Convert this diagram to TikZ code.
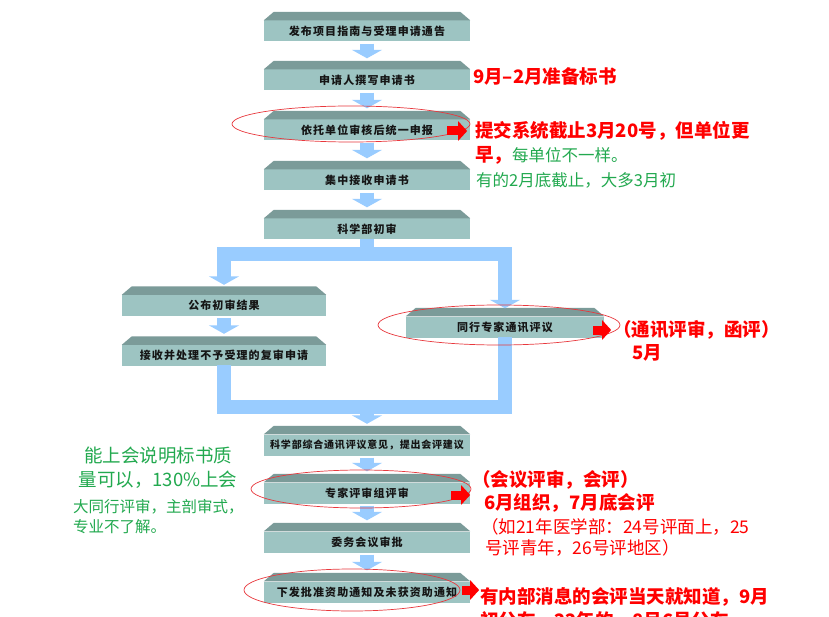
\documentclass[tikz,border=0pt]{standalone}
\usepackage{fontspec}
\setmainfont{Noto Sans CJK SC}
\usetikzlibrary{arrows.meta,positioning,shapes.geometric}
\definecolor{FlowBody}{HTML}{9DC4C2}
\definecolor{FlowBevel}{HTML}{7B9B99}
\definecolor{FlowPipe}{HTML}{99CCFF}
\definecolor{FlowRed}{HTML}{FF0000}
\definecolor{FlowRing}{HTML}{E8383D}
\definecolor{FlowGreen}{HTML}{22A94F}
\definecolor{FlowInk}{HTML}{151515}
\tikzset{
  stage/.style={fill=FlowBody,minimum height=21pt,inner sep=0pt,text=FlowInk,
                font=\fontsize{11}{12}\selectfont\bfseries\addfontfeature{LetterSpace=10}},
  stagetight/.style={stage,font=\fontsize{10}{11}\selectfont\bfseries\addfontfeature{LetterSpace=8}},
  bevel/.style={fill=FlowBevel},
  pipeline/.style={draw=FlowPipe,line width=14pt,line join=miter},
  pipe/.style={pipeline,-{Triangle[length=8.5pt,width=30pt]}},
  hot/.style={draw=FlowRed,line width=9pt,-{Triangle[length=9pt,width=19pt]}},
  ring/.style={ellipse,draw=FlowRing,line width=0.7pt,inner sep=0pt},
  notered/.style={text=FlowRed,inner sep=0pt,font=\fontsize{18.5}{22}\selectfont\bfseries},
  noteredlight/.style={text=FlowRed,inner sep=0pt,font=\fontsize{17.5}{21}\selectfont},
  notegreen/.style={text=FlowGreen,inner sep=0pt,font=\fontsize{16.5}{20}\selectfont},
}

\begin{document}
\begin{tikzpicture}[x=1pt,y=-1pt]
  \useasboundingbox[fill=white] (0,0) rectangle (829,617);

  % main column
  \node[stage,minimum width=206pt] (b1) at (367,31) {发布项目指南与受理申请通告};
  \node[stage,minimum width=206pt] (b2) at (367,80) {申请人撰写申请书};
  \node[stage,minimum width=206pt] (b3) at (367,130) {依托单位审核后统一申报};
  \node[stage,minimum width=206pt] (b4) at (367,180) {集中接收申请书};
  \node[stage,minimum width=206pt] (b5) at (367,229) {科学部初审};
  \node[stage,minimum width=204pt] (pub) at (224,305.5) {公布初审结果};
  \node[stage,minimum width=204pt] (rec) at (224,355.5) {接收并处理不予受理的复审申请};
  \node[stage,minimum width=198pt] (peer) at (505,327) {同行专家通讯评议};
  \node[stagetight,minimum width=206pt] (b6) at (367,445) {科学部综合通讯评议意见，提出会评建议};
  \node[stage,minimum width=206pt] (b7) at (367,493) {专家评审组评审};
  \node[stage,minimum width=206pt] (b8) at (367,542) {委务会议审批};
  \node[stage,minimum width=206pt] (b9) at (367,592) {下发批准资助通知及未获资助通知};

  \foreach \n in {b1,b2,b3,b4,b5,pub,rec,peer,b6,b7,b8,b9}
    \fill[bevel] (\n.north west) -- ([shift={(10pt,8.5pt)}]\n.north west)
      -- ([shift={(-10pt,8.5pt)}]\n.north east) -- (\n.north east) -- cycle;

  % blue arrows
  \foreach \a/\b in {b1/b2,b2/b3,b3/b4,b4/b5,pub/rec,b6/b7,b7/b8,b8/b9}
    \draw[pipe] ([yshift=-2pt]\a.south) -- ([yshift=11pt]\b.north);

  \coordinate (fork) at (367,254.5);
  \coordinate (join) at (367,407);
  \draw[pipeline] ([yshift=1pt]b5.south) -- (fork);
  \draw[pipe] (fork) -| ([yshift=10pt]pub.north);
  \draw[pipe] (fork) -| ([yshift=8pt]peer.north);
  \draw[pipeline] ([yshift=1pt]rec.south) |- (join);
  \draw[pipeline] ([yshift=1pt]peer.south) |- (join);
  \draw[pipe] (join) -- ([yshift=10.5pt]b6.north);

  % red marks
  \node[ring,minimum width=238pt,minimum height=36pt] (ring3) at (351,124) {};
  \node[ring,minimum width=242pt,minimum height=40pt] (ringpeer) at (499,325) {};
  \node[ring,minimum width=220pt,minimum height=38pt] (ring7) at (361,489) {};
  \node[ring,minimum width=216pt,minimum height=42pt] (ring9) at (352,590) {};
  \draw[hot] ([xshift=-23pt,yshift=-1pt]b3.east) -- ([xshift=-3pt,yshift=-1pt]b3.east);
  \draw[hot] ([xshift=-11pt,yshift=-3pt]peer.east) -- ([xshift=7pt,yshift=-3pt]peer.east);
  \draw[hot] ([xshift=-19pt,yshift=-2pt]b7.east) -- ([yshift=-2pt]b7.east);
  \draw[hot] ([xshift=-8pt,yshift=2pt]b9.east) -- ([xshift=9pt,yshift=2pt]b9.east);

  % notes
  \node[notered,anchor=west] (prep) at (473,76) {9月–2月准备标书};
  \node[notered,anchor=west] (due1) at (475,131) {提交系统截止3月20号，但单位更};
  \node[notered,anchor=west] (due2) at (475,155)
    {早，{\color{FlowGreen}\mdseries\fontsize{16.5}{20}\selectfont 每单位不一样。}};
  \node[notegreen,anchor=west] (due3) at (476,180) {有的2月底截止，大多3月初};

  \node[notered,anchor=west] (mail1) at (613,330) {（通讯评审，函评）};
  \node[notered,anchor=west] (mail2) at (632,353) {5月};

  \node[notered,anchor=west] (meet1) at (472,480) {（会议评审，会评）};
  \node[notered,anchor=west] (meet2) at (484,503) {6月组织，7月底会评};
  \node[noteredlight,anchor=west] (meet3) at (481,527) {（如21年医学部：24号评面上，25};
  \node[noteredlight,anchor=west] (meet4) at (485,548) {号评青年，26号评地区）};
  \node[notered,anchor=west] (news1) at (480,597) {有内部消息的会评当天就知道，9月};
  \node[notered,anchor=west] (news2) at (480,621) {初公布，22年的，8月6号公布};

  \node[notegreen,font=\fontsize{18.5}{24}\selectfont,align=center] (grade) at (158,468)
    {能上会说明标书质\\量可以，130\%上会};
  \node[notegreen,font=\fontsize{15.5}{20}\selectfont,align=left,anchor=west] (wide) at (73,517)
    {大同行评审，主剖审式，\\专业不了解。};
\end{tikzpicture}
\end{document}
